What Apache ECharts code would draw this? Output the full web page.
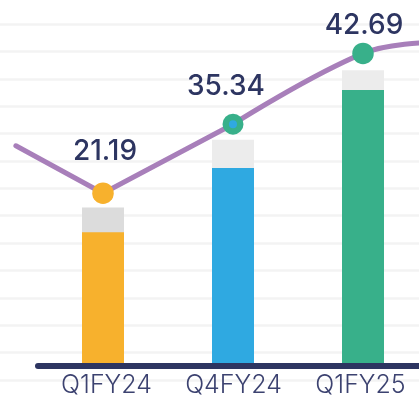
<!DOCTYPE html>
<html>
<head>
<meta charset="utf-8">
<script src="https://cdn.jsdelivr.net/npm/echarts@6/dist/echarts.min.js"></script>
<style>
  html, body { margin: 0; padding: 0; background: #fff; }
  #chart { width: 419px; height: 402px; }
</style>
</head>
<body>
<div id="chart"></div>
<script>
// categories and values (axis units, not the printed figures)
var categories = ['Q1FY24', 'Q4FY24', 'Q1FY25'];
var barValues = [22.3, 33.0, 46.0];
var capValues = [4.1, 4.7, 3.3];
var pointLabels = ['21.19', '35.34', '42.69'];
var pointHeights = [28.8, 40.3, 52.1];
var lineStart = [-0.67, 36.7];
var lineEnd = [2.5, 53.9];

// layout / style
var barColors = ['#f7b12d', '#2fa9e1', '#38b08a'];
var capColors = ['#dcdcdc', '#ececec', '#ececec'];
var labelOffsets = [[2, -9], [-7, -5], [1, 5]];
var navy = '#2d3561';
var purple = '#a87fba';
var plotLeft = 38, band = 130, W = 419;

var chart = echarts.init(document.getElementById('chart'));

var markerData = pointHeights.map(function (v, i) {
  var item = { value: [i, v], label: { formatter: pointLabels[i], offset: labelOffsets[i] } };
  if (i === 1) {
    item.symbolSize = 14.5;
    item.itemStyle = { color: barColors[1], borderColor: barColors[2], borderWidth: 6.5, opacity: 1 };
  } else {
    item.symbolSize = 21.5;
    item.itemStyle = { color: barColors[i], opacity: 1 };
  }
  return item;
});

// full-width grid for marks: category i sits at x = c0 + i * band
var c0 = plotLeft + band / 2;
var markMin = -c0 / band;
var markMax = (W - c0) / band;

var option = {
  animation: false,
  grid: [
    { left: plotLeft, right: 0, top: 6, bottom: 36 },
    { left: 0, right: 0, top: 24, bottom: 22 },
    { left: 0, right: 0, top: 6, bottom: 36 }
  ],
  xAxis: [
    {
      type: 'category',
      data: categories,
      gridIndex: 0,
      z: 5,
      axisLine: { lineStyle: { color: navy, width: 6 } },
      axisTick: { show: false },
      axisLabel: {
        color: '#3c4270',
        fontFamily: 'Inter',
        fontWeight: 300,
        fontSize: 25,
        margin: 7,
        padding: [0, 0, 0, 10]
      }
    },
    { type: 'value', gridIndex: 2, min: markMin, max: markMax, show: false },
    { type: 'value', gridIndex: 1, show: false }
  ],
  yAxis: [
    { type: 'value', gridIndex: 0, min: 0, max: 60, show: false },
    {
      type: 'value',
      gridIndex: 1,
      min: 0,
      max: 13,
      interval: 1,
      axisLine: { show: false },
      axisTick: { show: false },
      axisLabel: { show: false },
      splitLine: { lineStyle: { color: '#f3f3f3', width: 2.5 } }
    },
    { type: 'value', gridIndex: 2, min: 0, max: 60, show: false }
  ],
  series: [
    {
      // grey cap: full height of bar + cap, drawn behind the coloured bar
      type: 'bar',
      barWidth: 42,
      barGap: '-100%',
      xAxisIndex: 1,
      yAxisIndex: 2,
      data: barValues.map(function (v, i) {
        return { value: [i, v + capValues[i]], itemStyle: { color: capColors[i] } };
      })
    },
    {
      type: 'bar',
      barWidth: 42,
      barGap: '-100%',
      xAxisIndex: 1,
      yAxisIndex: 2,
      data: barValues.map(function (v, i) {
        return { value: [i, v], itemStyle: { color: barColors[i] } };
      })
    },
    {
      type: 'line',
      xAxisIndex: 1,
      yAxisIndex: 2,
      showSymbol: false,
      lineStyle: { color: purple, width: 5, cap: 'round' },
      data: [lineStart, [0, pointHeights[0]], [1, pointHeights[1]]],
      z: 3
    },
    {
      type: 'line',
      xAxisIndex: 1,
      yAxisIndex: 2,
      smooth: 0.4,
      showSymbol: false,
      lineStyle: { color: purple, width: 5, cap: 'round' },
      data: [[1, pointHeights[1]], [2, pointHeights[2]], lineEnd],
      z: 3
    },
    {
      type: 'scatter',
      xAxisIndex: 1,
      yAxisIndex: 2,
      z: 4,
      data: markerData,
      label: {
        show: true,
        position: 'top',
        distance: 8,
        color: navy,
        fontFamily: 'Inter',
        fontWeight: 500,
        fontSize: 28
      }
    }
  ]
};

chart.setOption(option);
</script>
</body>
</html>
